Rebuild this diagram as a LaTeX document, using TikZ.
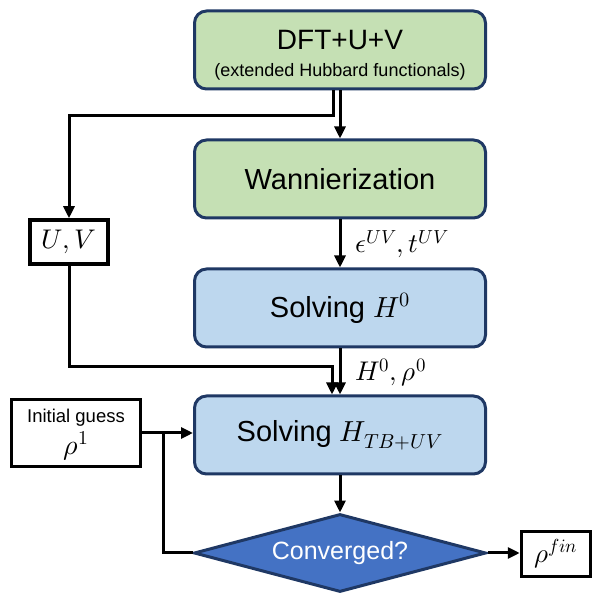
\documentclass[tikz,border=0pt]{standalone}
\usepackage{fontspec}
\usepackage{unicode-math}
\setmainfont{Liberation Sans}
\setmathfont{Latin Modern Math}
\usetikzlibrary{arrows.meta,shapes.geometric,calc}

\definecolor{stagegreen}{HTML}{C5E0B4}
\definecolor{stageblue}{HTML}{BDD7EE}
\definecolor{stageedge}{HTML}{1F3864}
\definecolor{decisionfill}{HTML}{4472C4}

\newcommand{\fs}[1]{\fontsize{#1}{#1}\selectfont}
% two centred lines, #3 = baseline-to-baseline distance,
% #4 = height of the last baseline above the node centre
\newcommand{\twolines}[4]{\raisebox{#4}[0pt][0pt]{\vbox{\baselineskip=#3\lineskiplimit=-100pt
  \halign{\hfil##\hfil\cr#1\cr#2\cr}}}}

\begin{document}
\begin{tikzpicture}[x=1pt,y=-1pt,
  stage/.style={draw=stageedge, line width=3pt, rounded corners=12pt,
    minimum width=291pt, minimum height=78pt, inner sep=0pt, align=center,
    font=\fs{29}},
  greenstage/.style={stage, fill=stagegreen},
  bluestage/.style={stage, fill=stageblue},
  valbox/.style={draw=black, line width=3.5pt, fill=white, inner sep=0pt, align=center},
  decision/.style={diamond, draw=stageedge, line width=3pt, fill=decisionfill,
    aspect=3.69, minimum width=292pt, minimum height=78pt, inner sep=0pt,
    text=white, font=\fs{25}},
  flow/.style={line width=3pt, draw=black},
  arr/.style={flow, -{Triangle[length=12pt,width=11pt]}},
  qty/.style={font=\fs{27}, inner sep=0pt}
]
\useasboundingbox (0,0) rectangle (595,593);

% main chain of stages
\node[greenstage] (dft) at (340,50)
  {\twolines{\fs{28}DFT+U+V}{\fs{18}(extended Hubbard functionals)}{27pt}{-27pt}};
\node[greenstage] (wan) at (340,179) {Wannierization};
\node[bluestage]  (h0)  at (340,308) {Solving $H^0$};
\node[bluestage]  (tb)  at (340,435) {Solving $H_{TB+UV}$};
\node[decision]   (conv) at (340,553) {Converged?};

% side quantities
\node[valbox, minimum width=78pt, minimum height=44pt, font=\fs{27}] (uv) at (69,242) {$U,V$};
\node[valbox, minimum width=129pt, minimum height=67pt] (ig) at (76,433)
  {\twolines{\fs{18.5}Initial guess}{\fs{28}$\rho^1$}{32pt}{-22pt}};
\node[valbox, minimum width=69pt, minimum height=45pt, font=\fs{27}] (fin) at (556,554) {$\rho^{fin}$};

% connectors
\draw[arr] (dft) -- (wan);
\draw[arr] ([xshift=-7pt]dft.south) -- ++(0,25) -| (uv.north);
\draw[arr] (wan) -- (h0);
\draw[arr] (h0) -- (tb);
\coordinate (uvturn) at ($([xshift=-8pt]tb.north)+(0,-28)$);
\draw[arr] (uv.south) |- (uvturn) -- ([xshift=-8pt]tb.north);
\draw[arr] (ig.east) -- (ig.east -| tb.west);
\coordinate (loop) at ($(ig.east)+(21,0)$);
\draw[flow] (conv.west) -| (loop);
\draw[arr] (tb) -- (conv);
\draw[arr] (conv.east) -- (conv.east -| fin.west);

% edge labels
\node[qty, anchor=base west] (eps) at (355,253) {$\epsilon^{UV}, t^{UV}$};
\node[qty, anchor=base west] (hrho) at (355,381) {$H^0, \rho^0$};
\end{tikzpicture}
\end{document}
